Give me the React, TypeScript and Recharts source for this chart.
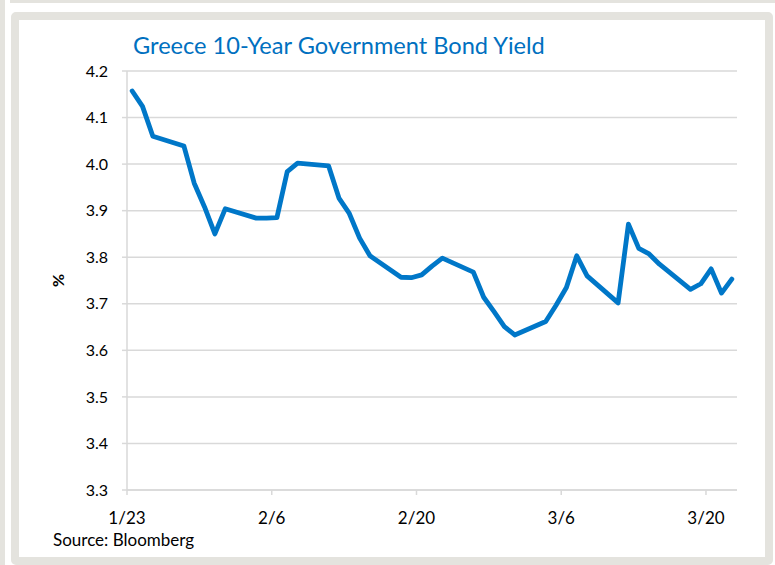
import React from "react";
import { LineChart, Line, XAxis, YAxis, CartesianGrid } from "recharts";

const dates = [
  "1/23", "1/24", "1/25", "1/28", "1/29", "1/30", "1/31", "2/1",
  "2/4", "2/5", "2/6", "2/7", "2/8", "2/11", "2/12", "2/13", "2/14", "2/15",
  "2/18", "2/19", "2/20", "2/21", "2/22", "2/25", "2/26", "2/27", "2/28", "3/1",
  "3/4", "3/5", "3/6", "3/7", "3/8", "3/11", "3/12", "3/13", "3/14", "3/15",
  "3/18", "3/19", "3/20", "3/21", "3/22",
];
const yields = [
  4.157, 4.124, 4.06, 4.039, 3.959, 3.908, 3.85, 3.904,
  3.884, 3.884, 3.885, 3.984, 4.002, 3.996, 3.927, 3.894, 3.841, 3.803,
  3.757, 3.756, 3.762, 3.781, 3.798, 3.768, 3.714, 3.683, 3.651, 3.633,
  3.662, 3.697, 3.735, 3.803, 3.76, 3.702, 3.871, 3.819, 3.807, 3.785,
  3.731, 3.743, 3.775, 3.723, 3.753,
];
const xTickLabels = ["1/23", "2/6", "2/20", "3/6", "3/20"];
const yTicks = [3.3, 3.4, 3.5, 3.6, 3.7, 3.8, 3.9, 4.0, 4.1, 4.2];

const YEAR = 2019;
const toDay = (s: string) => {
  const [m, d] = s.split("/").map(Number);
  return Date.UTC(YEAR, m - 1, d) / 86400000;
};
const day0 = toDay(dates[0]);
const dayOf = (s: string) => toDay(s) - day0;

// Excel date axis with points centered in each day slot
const data = dates.map((d, i) => ({ x: dayOf(d) + 0.5, y: yields[i] }));
const xTicks = xTickLabels.map(dayOf);
const labelByDay: Record<number, string> = {};
xTickLabels.forEach((l) => (labelByDay[dayOf(l)] = l));

const FONT = "Lato, 'Liberation Sans', sans-serif";
const GRID = "#d9d9d9";
const FRAME = "#e4e3de";

export default function App() {
  return (
    <div style={{ position: "absolute", left: 0, top: 0, width: 775, height: 565, background: "#fff", overflow: "hidden", fontFamily: FONT }}>
      <div style={{ position: "absolute", left: 0, top: 0, width: 5, height: 565, background: FRAME }} />
      <div style={{ position: "absolute", left: 10, top: 0, width: 765, height: 3, background: FRAME }} />
      <div
        style={{
          position: "absolute",
          left: 11,
          top: 12,
          width: 762,
          height: 553,
          boxSizing: "border-box",
          border: `8px solid ${FRAME}`,
          borderRadius: 5,
          background: "#fff",
        }}
      />
      <div style={{ position: "absolute", left: 133, top: 31, fontSize: 23.6, lineHeight: "28px", color: "#0070C0", whiteSpace: "nowrap" }}>
        Greece 10-Year Government Bond Yield
      </div>
      <div style={{ position: "absolute", left: 53, top: 530, fontSize: 17, lineHeight: "20px", color: "#000", whiteSpace: "nowrap" }}>
        Source: Bloomberg
      </div>
      <div style={{ position: "absolute", left: 0, top: 0 }}>
        <LineChart width={775} height={565} data={data} margin={{ top: 71, right: 38, bottom: 0, left: 0 }}>
          <CartesianGrid horizontal vertical={false} stroke={GRID} strokeWidth={1.5} />
          <XAxis
            dataKey="x"
            type="number"
            domain={[0, 59]}
            ticks={xTicks}
            interval={0}
            height={75}
            allowDataOverflow
            stroke={GRID}
            strokeWidth={1.5}
            tickSize={5}
            tickMargin={17}
            tick={{ fill: "#000", fontSize: 17, fontFamily: FONT }}
            tickFormatter={(v: number) => labelByDay[v] ?? ""}
          />
          <YAxis
            type="number"
            domain={[3.3, 4.2]}
            ticks={yTicks}
            interval={0}
            width={127}
            stroke={GRID}
            strokeWidth={1.5}
            tickSize={5}
            tickMargin={14}
            tick={{ fill: "#000", fontSize: 16, fontFamily: FONT }}
            tickFormatter={(v: number) => v.toFixed(1)}
            label={{
              value: "%",
              angle: -90,
              position: "insideLeft",
              offset: 58,
              style: { fontSize: 16, fontWeight: "bold", fill: "#000", fontFamily: FONT, textAnchor: "middle" },
            }}
          />
          <Line
            type="linear"
            dataKey="y"
            stroke="#0077C8"
            strokeWidth={4.8}
            strokeLinejoin="round"
            strokeLinecap="round"
            dot={false}
            isAnimationActive={false}
          />
        </LineChart>
      </div>
    </div>
  );
}
